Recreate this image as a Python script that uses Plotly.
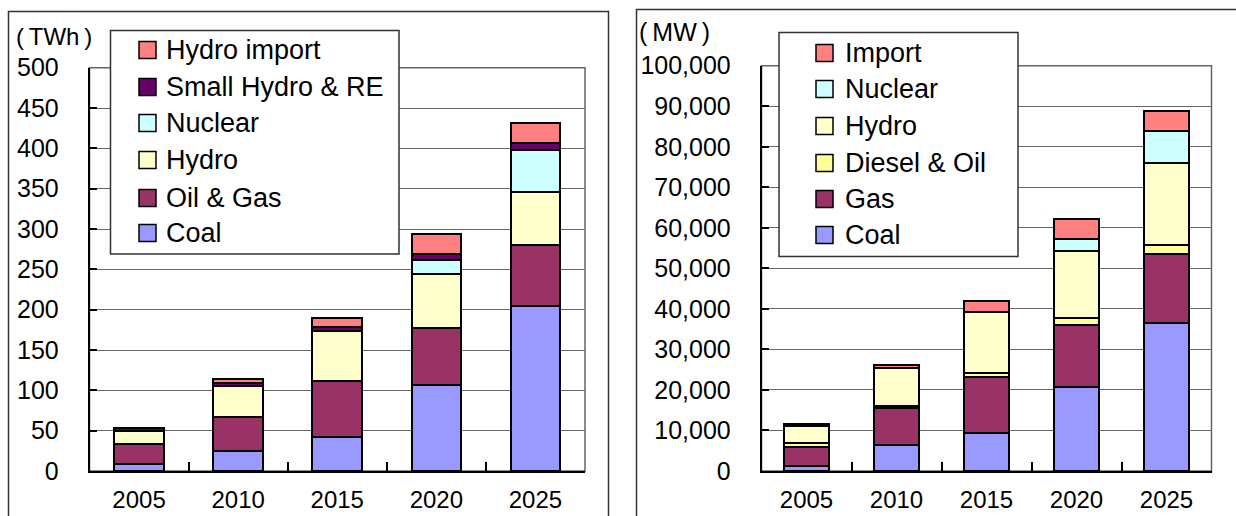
import plotly.graph_objects as go

W, H = 1236, 516
FONT = "Liberation Sans, Arial, sans-serif"

years = ["2005", "2010", "2015", "2020", "2025"]

# Left chart: generation (TWh)
gen_coal = [9, 25, 42, 107, 204]
gen_oil_gas = [25, 42, 70, 70, 76]
gen_hydro = [16, 38, 62, 67, 66]
gen_nuclear = [0, 0, 0, 18, 52]
gen_small_hydro_re = [3, 4, 4, 7, 9]
gen_hydro_import = [0, 5, 12, 25, 24]

# Right chart: capacity (MW)
cap_coal = [1300, 6400, 9300, 20800, 36400]
cap_gas = [4700, 9100, 13800, 15100, 17100]
cap_diesel_oil = [1000, 500, 1000, 1800, 2300]
cap_hydro = [4000, 9300, 15200, 16700, 20300]
cap_nuclear = [0, 0, 0, 2800, 7800]
cap_import = [500, 900, 2600, 5100, 5000]

C_COAL = "#9999FF"
C_GAS = "#993366"
C_HYDRO = "#FFFFCC"
C_NUC = "#CCFFFF"
C_SHRE = "#660066"
C_IMP = "#FF8080"
C_DIESEL = "#FFFF99"

left_series = [
    ("Coal", gen_coal, C_COAL),
    ("Oil & Gas", gen_oil_gas, C_GAS),
    ("Hydro", gen_hydro, C_HYDRO),
    ("Nuclear", gen_nuclear, C_NUC),
    ("Small Hydro & RE", gen_small_hydro_re, C_SHRE),
    ("Hydro import", gen_hydro_import, C_IMP),
]
right_series = [
    ("Coal", cap_coal, C_COAL),
    ("Gas", cap_gas, C_GAS),
    ("Diesel & Oil", cap_diesel_oil, C_DIESEL),
    ("Hydro", cap_hydro, C_HYDRO),
    ("Nuclear", cap_nuclear, C_NUC),
    ("Import", cap_import, C_IMP),
]

fig = go.Figure()
for name, vals, col in left_series:
    fig.add_trace(go.Bar(x=years, y=vals, name=name, marker=dict(color=col, line=dict(color="black", width=2)),
                         width=0.5, xaxis="x", yaxis="y", showlegend=False))
for name, vals, col in right_series:
    fig.add_trace(go.Bar(x=years, y=vals, name=name, marker=dict(color=col, line=dict(color="black", width=2)),
                         width=0.51, xaxis="x2", yaxis="y2", showlegend=False))

def px(x):
    return x / W

def py(y):
    return 1 - y / H

# plot areas in pixels
L = dict(x0=89.5, x1=585, y0=67.7, y1=471)
R = dict(x0=761.5, x1=1211.5, y0=65.7, y1=471)

tickfont = dict(family=FONT, size=25, color="black")
xcommon = dict(type="category", showline=True, linecolor="black", linewidth=2, ticks="inside",
               tickson="boundaries", ticklen=9, tickwidth=1.5, tickcolor="black", showgrid=False,
               tickfont=dict(family=FONT, size=24, color="black"), ticklabelstandoff=6, automargin=False)
ycommon = dict(showline=True, linecolor="black", linewidth=1.5, ticks="inside", ticklen=8, tickwidth=1.5,
               tickcolor="black", showgrid=True, gridcolor="#666666", gridwidth=1, zeroline=False,
               tickfont=tickfont, ticklabelstandoff=24, automargin=False)

fig.update_layout(
    width=W, height=H, margin=dict(l=0, r=0, t=0, b=0, autoexpand=False),
    paper_bgcolor="white", plot_bgcolor="white",
    barmode="stack", font=dict(family=FONT, color="black"),
    xaxis=dict(domain=[px(L["x0"]), px(L["x1"])], anchor="y", **xcommon),
    yaxis=dict(domain=[py(L["y1"]), py(L["y0"])], anchor="x", range=[0, 500], dtick=50, **ycommon),
    xaxis2=dict(domain=[px(R["x0"]), px(R["x1"])], anchor="y2", **xcommon),
    yaxis2=dict(domain=[py(R["y1"]), py(R["y0"])], anchor="x2", range=[0, 100000], dtick=10000,
                tickformat=",d", **ycommon),
)

shapes = []
annotations = []
# outer frames
shapes.append(dict(type="rect", xref="paper", yref="paper", x0=px(8.5), x1=px(608.5), y0=-0.2, y1=py(11.5),
                   line=dict(color="#333333", width=1.5), layer="below"))
shapes.append(dict(type="rect", xref="paper", yref="paper", x0=px(636.5), x1=px(1260), y0=-0.2, y1=py(9.5),
                   line=dict(color="#333333", width=1.5), layer="below"))
# plot area borders (top/right)
for xr, yr in (("x", "y"), ("x2", "y2")):
    shapes.append(dict(type="rect", xref=xr + " domain", yref=yr + " domain", x0=0, x1=1, y0=0, y1=1,
                       line=dict(color="#666666", width=1.5), layer="below"))

# unit labels
annotations.append(dict(text="(\u2009TWh\u2009)", xref="paper", yref="paper", x=px(14), y=py(36),
                        xanchor="left", yanchor="middle", showarrow=False,
                        font=dict(family=FONT, size=24, color="black")))
annotations.append(dict(text="(\u2009MW\u2009)", xref="paper", yref="paper", x=px(637), y=py(32),
                        xanchor="left", yanchor="middle", showarrow=False,
                        font=dict(family=FONT, size=25, color="black")))

def legend(series, box, sq_x, txt_x, ys):
    x0, x1, y0, y1 = box
    shapes.append(dict(type="rect", xref="paper", yref="paper", x0=px(x0), x1=px(x1), y0=py(y1), y1=py(y0),
                       fillcolor="white", line=dict(color="#333333", width=1.5), layer="above"))
    for (name, _, col), yc in zip(reversed(series), ys):
        shapes.append(dict(type="rect", xref="paper", yref="paper", x0=px(sq_x), x1=px(sq_x + 17),
                           y0=py(yc + 8.5), y1=py(yc - 8.5), fillcolor=col,
                           line=dict(color="black", width=1.5), layer="above"))
        annotations.append(dict(text=name, xref="paper", yref="paper", x=px(txt_x), y=py(yc), xanchor="left",
                                yanchor="middle", showarrow=False,
                                font=dict(family=FONT, size=27, color="black")))

legend(left_series, (110.5, 399, 30.5, 254), 139, 164, [50, 87, 123, 160, 198, 233])
legend(right_series, (779, 1018, 32.5, 256.5), 816, 843, [53, 89, 126, 163, 199, 235])

fig.update_layout(shapes=shapes, annotations=annotations)
fig.write_html("out.html")
